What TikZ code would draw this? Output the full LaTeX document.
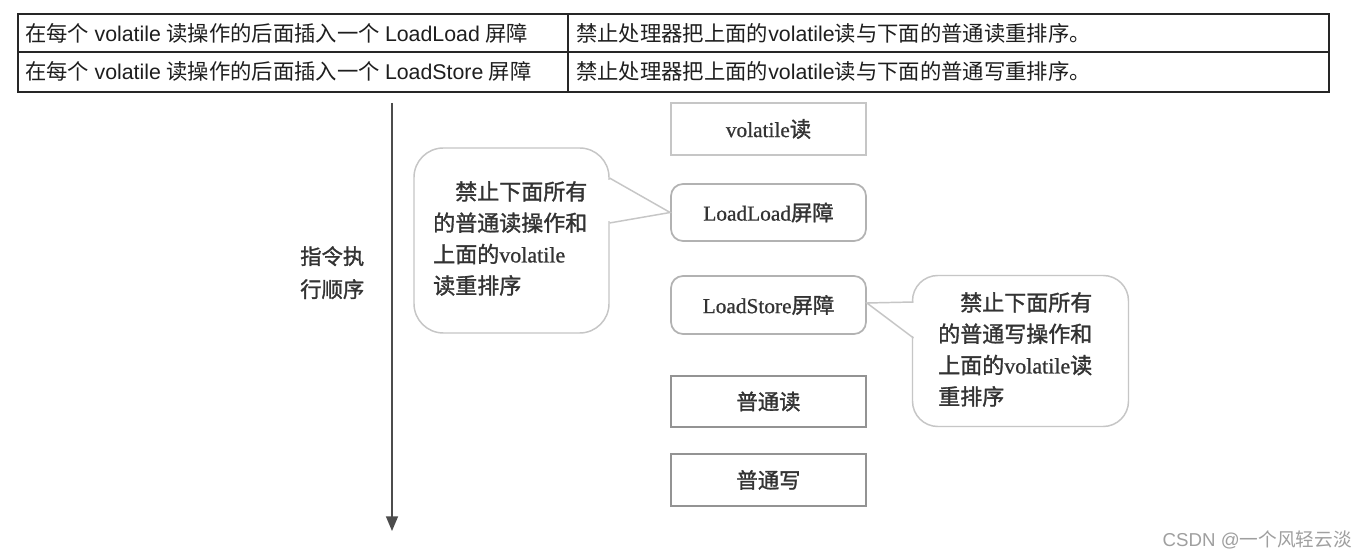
\documentclass[tikz,border=0pt]{standalone}
\usepackage{fontspec}
\setmainfont{Liberation Serif}
\newfontfamily\cjk{Noto Sans CJK SC}
\newfontfamily\cjkb[FakeBold=1.4]{Noto Sans CJK SC}
\newfontfamily\arialf{Liberation Sans}
\newfontfamily\serifb[FakeBold=0.8]{Liberation Serif}
\usetikzlibrary{arrows.meta}
\newcommand\zh[1]{{\cjk #1}}
\newcommand\zhb[1]{{\cjkb #1}}
\newcommand\lat[1]{{\arialf #1}}
\newcommand\slat[1]{{\serifb #1}}
\definecolor{txt}{HTML}{333333}
\definecolor{tbltxt}{HTML}{1E1E1E}
\begin{document}
\begin{tikzpicture}[x=0.75pt,y=-0.75pt,
  tbl/.style={draw=black!85,line width=1.1pt},
  ttext/.style={anchor=west,inner sep=0pt,font=\fontsize{16}{19}\selectfont,text=tbltxt},
  box/.style={draw=#1,line width=1.3pt,minimum width=146.25pt,inner sep=0pt,
    font=\fontsize{16}{19}\selectfont,text=txt},
  callout/.style={draw=gray!45,line width=1.1pt,rounded corners=#1,inner sep=0pt,fill=white},
  cotext/.style={anchor=north west,inner sep=0pt,align=left,text=txt,
    font=\fontsize{16.5}{23.5}\selectfont},
  ptr/.style={draw=gray!45,line width=1.1pt},
  flow/.style={draw=black!70,line width=1.1pt,-{Triangle[length=11pt,width=9pt]}}
]
\useasboundingbox[fill=white] (0,0) rectangle (1367,559);

% table
\draw[tbl] (18,14) rectangle (1329,92);
\draw[tbl] (18,52) -- (1329,52);
\draw[tbl] (568,14) -- (568,92);
\node[ttext] (r1a) at (25,33) {\zh{在每个} \lat{volatile} \zh{读操作的后面插入一个} \lat{LoadLoad} \zh{屏障}};
\node[ttext] (r2a) at (25,71) {\zh{在每个} \lat{volatile} \zh{读操作的后面插入一个} \lat{LoadStore} \zh{屏障}};
\node[ttext] (r1b) at (576,33) {\zh{禁止处理器把上面的}\lat{volatile}\zh{读与下面的普通读重排序。}};
\node[ttext] (r2b) at (576,71) {\zh{禁止处理器把上面的}\lat{volatile}\zh{读与下面的普通写重排序。}};

% time arrow
\coordinate (atop) at (392,103);
\coordinate (abot) at (392,531);
\draw[flow] (atop) -- (abot);
\node[cotext,font=\fontsize{16}{24.75}\selectfont] (order) at (300,246) {\zhb{指令执}\\\zhb{行顺序}};

% instruction boxes
\node[box=gray!45,minimum height=39pt] (vr) at (768.5,129) {\slat{volatile}\zhb{读}};
\node[box=gray!60,minimum height=42.75pt,rounded corners=9pt] (ll) at (768.5,212.5) {\slat{LoadLoad}\zhb{屏障}};
\node[box=gray!60,minimum height=43.5pt,rounded corners=9pt] (ls) at (768.5,305) {\slat{LoadStore}\zhb{屏障}};
\node[box=gray!85,minimum height=38.25pt] (nr) at (768.5,401.5) {\zhb{普通读}};
\node[box=gray!85,minimum height=39pt] (nw) at (768.5,480) {\zhb{普通写}};

% left callout
\node[callout=22pt,minimum width=146.25pt,minimum height=138.75pt] (c1) at (511.5,240.5) {};
\coordinate (c1a) at (609.5,178);
\coordinate (c1b) at (609.5,223);
\fill[white] (604,180) rectangle (614,221);
\draw[ptr] (c1a) -- (ll.west) -- (c1b);
\node[cotext] (t1) at (433,181) {\hspace*{1em}\zhb{禁止下面所有}\\\zhb{的普通读操作和}\\\zhb{上面的}\slat{volatile}\\\zhb{读重排序}};

% right callout
\node[callout=19pt,minimum width=162pt,minimum height=113.25pt] (c2) at (1020.5,351) {};
\coordinate (c2a) at (913.5,302);
\coordinate (c2b) at (913.5,338);
\fill[white] (908,303.5) rectangle (918,336.5);
\draw[ptr] (c2a) -- ([yshift=1.5pt]ls.east) -- (c2b);
\node[cotext] (t2) at (938,292) {\hspace*{1em}\zhb{禁止下面所有}\\\zhb{的普通写操作和}\\\zhb{上面的}\slat{volatile}\zhb{读}\\\zhb{重排序}};

% watermark
\node[anchor=east,inner sep=0pt,text=gray!75,font=\fontsize{14}{16}\selectfont] (wm) at (1352,540) {\lat{CSDN @}\zh{一个风轻云淡}};
\end{tikzpicture}
\end{document}
